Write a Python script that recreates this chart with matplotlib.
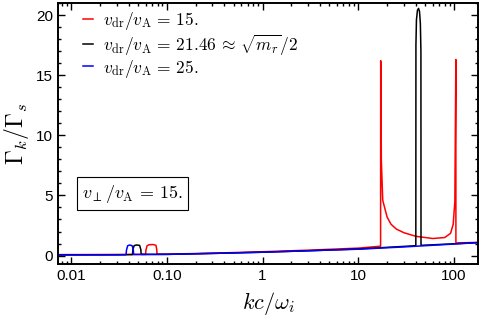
import matplotlib
matplotlib.use("Agg")
import matplotlib.pyplot as plt
from matplotlib.ticker import FixedLocator, FixedFormatter, MultipleLocator, LogLocator, NullFormatter

plt.rcParams['mathtext.fontset'] = 'cm'
plt.rcParams['font.family'] = ['Liberation Sans', 'DejaVu Sans']

# vdr/vA = 15 (red)
k_red = [0.007, 0.03, 0.060, 0.0605, 0.062, 0.065, 0.072, 0.077, 0.0785, 0.079, 0.1, 0.3, 1, 3, 10,
         17.1, 17.15, 17.4, 18, 20, 22, 25, 30, 40, 60, 80, 92, 98, 102, 104.5, 104.6, 180]
g_red = [0.08, 0.09, 0.1, 0.45, 0.8, 0.9, 0.92, 0.85, 0.5, 0.12, 0.12, 0.2, 0.32, 0.45, 0.62,
         0.78, 16.2, 8.0, 4.6, 3.2, 2.6, 2.2, 1.9, 1.6, 1.42, 1.5, 1.85, 2.6, 4.5, 16.3, 1.05, 1.1]

# vdr/vA = 21.46 (black)
k_blk = [0.007, 0.03, 0.0438, 0.0442, 0.0455, 0.048, 0.052, 0.0535, 0.054, 0.1, 0.3, 1, 3, 10,
         39.9, 40.0, 40.5, 41.5, 42.6, 43.6, 44.5, 45.1, 45.2, 100, 180]
g_blk = [0.06, 0.07, 0.08, 0.5, 0.82, 0.88, 0.85, 0.5, 0.1, 0.1, 0.18, 0.28, 0.4, 0.55,
         0.82, 17.5, 19.6, 20.4, 20.55, 20.3, 19.3, 17.0, 0.85, 0.98, 1.08]

# vdr/vA = 25 (blue)
k_blu = [0.007, 0.03, 0.0375, 0.0379, 0.039, 0.041, 0.0435, 0.0447, 0.045, 0.1, 0.3, 1, 3, 10,
         30, 100, 180]
g_blu = [0.05, 0.06, 0.07, 0.45, 0.82, 0.88, 0.82, 0.45, 0.09, 0.1, 0.18, 0.28, 0.4, 0.53,
         0.72, 0.96, 1.08]

labels = [r'$v_{\rm dr}/v_{\rm A}\,=\,15.$',
          r'$v_{\rm dr}/v_{\rm A}\,=\,21.46\,\approx\,\sqrt{m_r}/2$',
          r'$v_{\rm dr}/v_{\rm A}\,=\,25.$']

xticks = [0.01, 0.1, 1, 10, 100]
xticklabels = ['0.01', '0.10', '1', '10', '100']
yticks = [0, 5, 10, 15, 20]

fig = plt.figure(figsize=(4.8, 3.24), dpi=100)
ax = fig.add_axes([58/480, 1-264/324, 420/480, 261/324])

ax.plot(k_red, g_red, color='#ff0000', lw=1.1, label=labels[0])
ax.plot(k_blk, g_blk, color='black', lw=1.1, label=labels[1])
ax.plot(k_blu, g_blu, color='#0000ff', lw=1.1, label=labels[2])

ax.set_xscale('log')
ax.set_xlim(0.0073, 178)
ax.set_ylim(-0.7, 21)
ax.xaxis.set_major_locator(FixedLocator(xticks))
ax.xaxis.set_major_formatter(FixedFormatter(xticklabels))
ax.xaxis.set_minor_locator(LogLocator(base=10, subs=range(2, 10), numticks=20))
ax.xaxis.set_minor_formatter(NullFormatter())
ax.set_yticks(yticks)
ax.yaxis.set_minor_locator(MultipleLocator(1))
ax.tick_params(which='both', direction='in', top=True, right=True, labelsize=11, width=1.0)
ax.tick_params(which='major', length=5)
ax.tick_params(which='minor', length=2.5)
for s in ax.spines.values():
    s.set_linewidth(1.4)

ax.set_xlabel(r'$kc/\omega_i$', fontsize=16, labelpad=5)
ax.set_ylabel(r'$\Gamma_k/\Gamma_s$', fontsize=17, labelpad=4)

leg = ax.legend(loc='upper left', frameon=False, fontsize=12.5, handlelength=0.55,
                handletextpad=0.6, labelspacing=0.0, borderaxespad=0.3,
                bbox_to_anchor=(0.031, 1.018))

ax.text(0.058, 0.27, r'$v_{\perp}/v_{\rm A}\,=\,15.$', transform=ax.transAxes, fontsize=13,
        va='center', ha='left',
        bbox=dict(boxstyle='square,pad=0.3', facecolor='white', edgecolor='black', lw=0.8))

fig.savefig('out.png', dpi=100)
